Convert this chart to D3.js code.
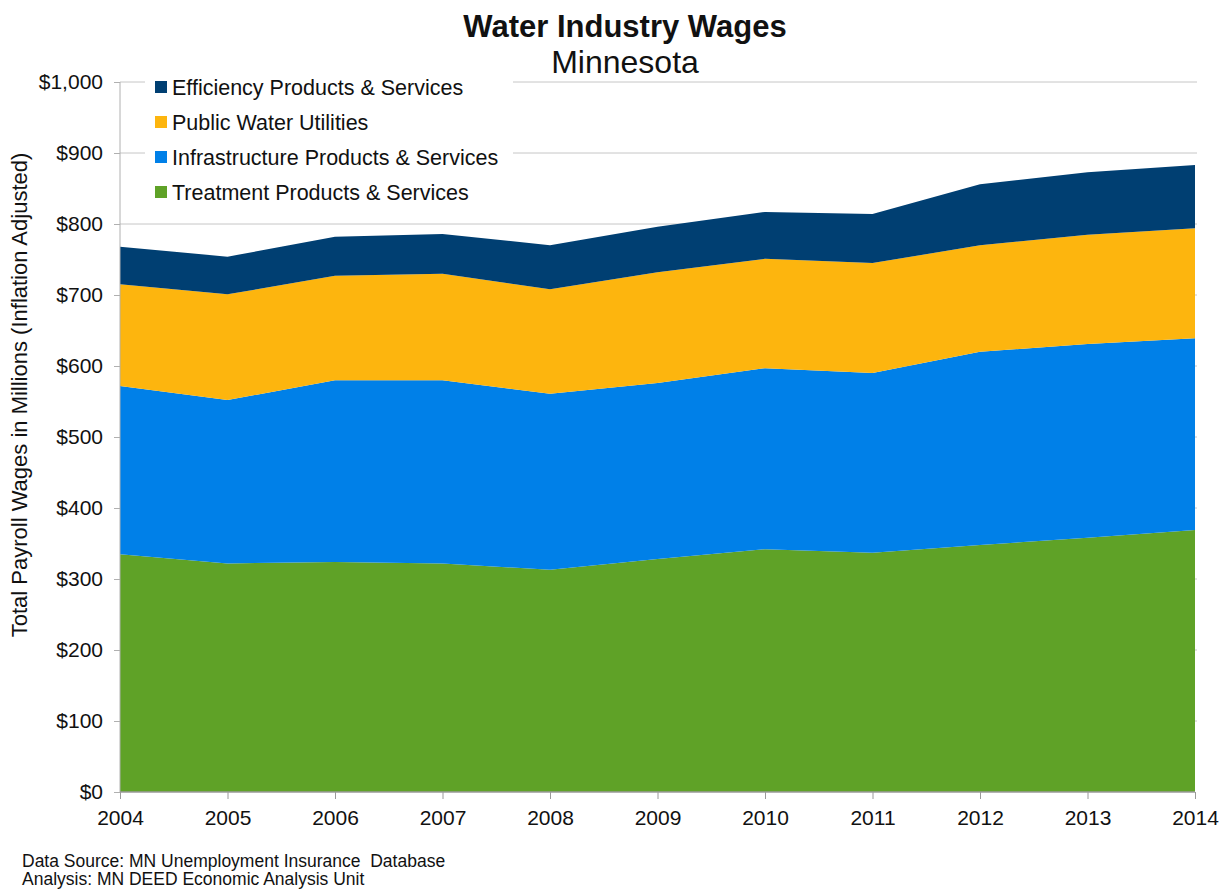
<!DOCTYPE html>
<html>
<head>
<meta charset="utf-8">
<script src="https://cdn.jsdelivr.net/npm/d3@7"></script>
<style>
  body { margin: 0; background: #fff; }
  text { font-family: "Liberation Sans", Arial, sans-serif; fill: #111; }
</style>
</head>
<body>
<div id="chart"></div>
<script>
'use strict'

// data ($ millions)
const years = [2004, 2005, 2006, 2007, 2008, 2009, 2010, 2011, 2012, 2013, 2014]
const treatment = [335, 322, 324, 322, 313, 328, 342, 337, 348, 358, 369]
const infrastructure = [237, 230, 256, 258, 248, 248, 255, 253, 272, 273, 270]
const publicWater = [143, 149, 147, 150, 147, 156, 154, 155, 150, 154, 155]
const efficiency = [53, 53, 55, 56, 62, 64, 66, 69, 86, 88, 89]
const yTicks = [0, 100, 200, 300, 400, 500, 600, 700, 800, 900, 1000]

const seriesNames = ['Treatment Products & Services', 'Infrastructure Products & Services', 'Public Water Utilities', 'Efficiency Products & Services']
const seriesKeys = ['treatment', 'infrastructure', 'publicWater', 'efficiency']
const colors = ['#5fa227', '#0080e8', '#fdb50e', '#003f72']

const rows = years.map((y, i) => ({
    year: y,
    treatment: treatment[i],
    infrastructure: infrastructure[i],
    publicWater: publicWater[i],
    efficiency: efficiency[i]
}))

////////////////////////////////////
//////////// svg setup /////////////
////////////////////////////////////
const svgWidth = 1227
const svgHeight = 892
const margin = { left: 120, right: 32, top: 82, bottom: 100 }
const width = svgWidth - margin.left - margin.right
const height = svgHeight - margin.top - margin.bottom

const svg = d3.select('#chart').append('svg')
    .attr('width', svgWidth)
    .attr('height', svgHeight)

const g = svg.append('g')
    .attr('transform', `translate(${margin.left},${margin.top})`)

const x = d3.scaleLinear().domain([2004, 2014]).range([0, width])
const y = d3.scaleLinear().domain([0, 1000]).range([height, 0])

// gridlines
g.append('g')
    .selectAll('line')
    .data(yTicks.filter(d => d > 0))
    .join('line')
    .attr('x1', 0)
    .attr('x2', width + 2)
    .attr('y1', d => y(d))
    .attr('y2', d => y(d))
    .attr('stroke', '#c6c6c6')
    .attr('stroke-width', 1)

////////////////////////////////////
//////////// stacked areas /////////
////////////////////////////////////
const stack = d3.stack().keys(seriesKeys)
const layers = stack(rows)

const area = d3.area()
    .x(d => x(d.data.year))
    .y0(d => y(d[0]))
    .y1(d => y(d[1]))

g.append('g')
    .selectAll('path')
    .data(layers)
    .join('path')
    .attr('d', area)
    .attr('fill', (d, i) => colors[i])

////////////////////////////////////
//////////////// axes //////////////
////////////////////////////////////
const yAxis = g.append('g')
    .call(d3.axisLeft(y).tickValues(yTicks).tickSize(6).tickPadding(11)
        .tickFormat(d => '$' + d3.format(',')(d)))
yAxis.select('.domain').attr('stroke', '#b0b0b0').attr('d', `M0,${height}V0`)
yAxis.selectAll('.tick line').attr('stroke', '#b0b0b0')
yAxis.selectAll('text').style('font-size', '21px').attr('fill', '#111')

const xAxis = g.append('g')
    .attr('transform', `translate(0,${height})`)
    .call(d3.axisBottom(x).tickValues(years).tickSize(7).tickPadding(11).tickFormat(d3.format('d')))
xAxis.select('.domain').attr('stroke', '#9a9a9a').attr('stroke-width', 1.5).attr('d', `M0,0H${width}`)
xAxis.selectAll('.tick line').attr('stroke', '#9a9a9a')
xAxis.selectAll('text').style('font-size', '21px').attr('fill', '#111')

// y axis title
svg.append('text')
    .attr('transform', `translate(27,${margin.top + height / 2 - 42}) rotate(-90)`)
    .attr('text-anchor', 'middle')
    .style('font-size', '22px')
    .text('Total Payroll Wages in Millions (Inflation Adjusted)')

////////////////////////////////////
//////////////// title /////////////
////////////////////////////////////
svg.append('text')
    .attr('x', 625)
    .attr('y', 37)
    .attr('text-anchor', 'middle')
    .style('font-size', '31px')
    .style('font-weight', 'bold')
    .text('Water Industry Wages')

svg.append('text')
    .attr('x', 625)
    .attr('y', 73)
    .attr('text-anchor', 'middle')
    .style('font-size', '32px')
    .text('Minnesota')

////////////////////////////////////
//////////////// legend ////////////
////////////////////////////////////
const legend = svg.append('g').attr('transform', 'translate(145,70)')
legend.append('rect')
    .attr('width', 368)
    .attr('height', 138)
    .attr('fill', '#fff')

const legendOrder = [3, 2, 1, 0]
const item = legend.selectAll('g.item')
    .data(legendOrder)
    .join('g')
    .attr('class', 'item')
    .attr('transform', (d, i) => `translate(0,${17 + i * 35})`)

item.append('rect')
    .attr('x', 10)
    .attr('y', -6)
    .attr('width', 12)
    .attr('height', 12)
    .attr('fill', d => colors[d])

item.append('text')
    .attr('x', 27)
    .attr('y', 8)
    .style('font-size', '21.5px')
    .text(d => seriesNames[d])

////////////////////////////////////
//////////////// notes /////////////
////////////////////////////////////
svg.append('text')
    .attr('x', 22)
    .attr('y', 867)
    .style('font-size', '17.5px')
    .style('white-space', 'pre')
    .text('Data Source: MN Unemployment Insurance  Database')

svg.append('text')
    .attr('x', 22)
    .attr('y', 885)
    .style('font-size', '17.5px')
    .text('Analysis: MN DEED Economic Analysis Unit')
</script>
</body>
</html>
